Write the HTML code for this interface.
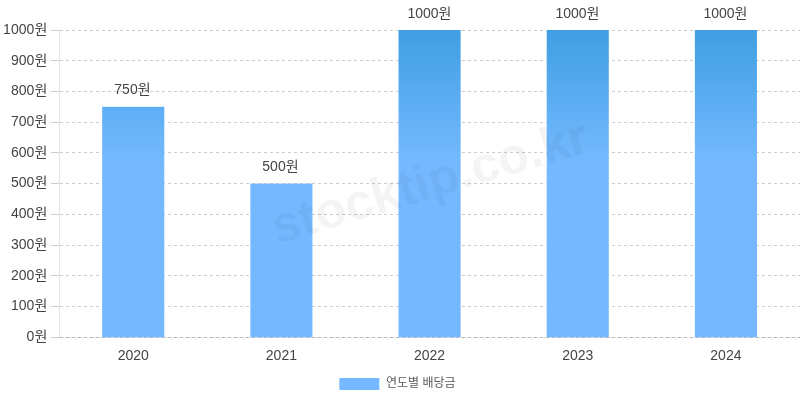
<!DOCTYPE html>
<html lang="ko"><head><meta charset="utf-8"><title>연도별 배당금</title>
<style>html,body{margin:0;padding:0;background:#fff;}body{width:800px;height:400px;overflow:hidden;}svg{display:block;will-change:transform;}text{font-family:"Liberation Sans","Noto Sans CJK KR",sans-serif;}</style></head><body>
<svg width="800" height="400" viewBox="0 0 800 400" role="img" aria-label="연도별 배당금: 2020 750원, 2021 500원, 2022 1000원, 2023 1000원, 2024 1000원">
<defs>
<linearGradient id="bg" gradientUnits="userSpaceOnUse" x1="0" y1="0" x2="0" y2="162"><stop offset="0" stop-color="#3498db"/><stop offset="1" stop-color="#74b9ff"/></linearGradient>
</defs>
<rect width="800" height="400" fill="#fff"/>
<g stroke="rgba(0,0,0,0.2)" stroke-width="1" fill="none">
<line x1="60.0" y1="30.5" x2="800" y2="30.5" stroke-dasharray="3 3"/>
<line x1="51.146" y1="30.5" x2="59.0" y2="30.5"/>
<line x1="60.0" y1="60.5" x2="800" y2="60.5" stroke-dasharray="3 3"/>
<line x1="51.146" y1="60.5" x2="59.0" y2="60.5"/>
<line x1="60.0" y1="91.5" x2="800" y2="91.5" stroke-dasharray="3 3"/>
<line x1="51.146" y1="91.5" x2="59.0" y2="91.5"/>
<line x1="60.0" y1="122.5" x2="800" y2="122.5" stroke-dasharray="3 3"/>
<line x1="51.146" y1="122.5" x2="59.0" y2="122.5"/>
<line x1="60.0" y1="152.5" x2="800" y2="152.5" stroke-dasharray="3 3"/>
<line x1="51.146" y1="152.5" x2="59.0" y2="152.5"/>
<line x1="60.0" y1="183.5" x2="800" y2="183.5" stroke-dasharray="3 3"/>
<line x1="51.146" y1="183.5" x2="59.0" y2="183.5"/>
<line x1="60.0" y1="214.5" x2="800" y2="214.5" stroke-dasharray="3 3"/>
<line x1="51.146" y1="214.5" x2="59.0" y2="214.5"/>
<line x1="60.0" y1="245.5" x2="800" y2="245.5" stroke-dasharray="3 3"/>
<line x1="51.146" y1="245.5" x2="59.0" y2="245.5"/>
<line x1="60.0" y1="275.5" x2="800" y2="275.5" stroke-dasharray="3 3"/>
<line x1="51.146" y1="275.5" x2="59.0" y2="275.5"/>
<line x1="60.0" y1="306.5" x2="800" y2="306.5" stroke-dasharray="3 3"/>
<line x1="51.146" y1="306.5" x2="59.0" y2="306.5"/>
<line x1="60.0" y1="337.5" x2="800" y2="337.5" stroke-dasharray="3 3"/>
<line x1="51.146" y1="337.5" x2="59.0" y2="337.5"/>
</g>
<line x1="59.5" y1="30" x2="59.5" y2="338.0" stroke="rgba(0,0,0,0.1)" stroke-width="1"/>
<line x1="59.0" y1="337.5" x2="800" y2="337.5" stroke="rgba(0,0,0,0.1)" stroke-width="1"/>
<rect x="102.18" y="106.80" width="62.1" height="230.40" fill="url(#bg)"/>
<rect x="250.35" y="183.60" width="62.1" height="153.60" fill="url(#bg)"/>
<rect x="398.52" y="30.00" width="62.1" height="307.20" fill="url(#bg)"/>
<rect x="546.69" y="30.00" width="62.1" height="307.20" fill="url(#bg)"/>
<rect x="694.86" y="30.00" width="62.1" height="307.20" fill="url(#bg)"/>
<text transform="translate(430.6 184.8) rotate(-16.5)" x="0" y="13.089" text-anchor="middle" font-size="50.4" font-weight="bold" fill="#000" fill-opacity="0.045">stocktip.co.kr</text>
<text x="26.460" y="341.055" font-size="14" fill="#444444">0</text>
<text x="34.55" y="340.5" font-size="14" fill="#444444">원</text>
<text x="10.888" y="310.335" font-size="14" fill="#444444">100</text>
<text x="34.55" y="309.5" font-size="14" fill="#444444">원</text>
<text x="10.888" y="279.615" font-size="14" fill="#444444">200</text>
<text x="34.55" y="279.5" font-size="14" fill="#444444">원</text>
<text x="10.888" y="248.895" font-size="14" fill="#444444">300</text>
<text x="34.55" y="248.5" font-size="14" fill="#444444">원</text>
<text x="10.888" y="218.175" font-size="14" fill="#444444">400</text>
<text x="34.55" y="217.5" font-size="14" fill="#444444">원</text>
<text x="10.888" y="187.455" font-size="14" fill="#444444">500</text>
<text x="34.55" y="186.5" font-size="14" fill="#444444">원</text>
<text x="10.888" y="156.735" font-size="14" fill="#444444">600</text>
<text x="34.55" y="156.5" font-size="14" fill="#444444">원</text>
<text x="10.888" y="126.015" font-size="14" fill="#444444">700</text>
<text x="34.55" y="125.5" font-size="14" fill="#444444">원</text>
<text x="10.888" y="95.295" font-size="14" fill="#444444">800</text>
<text x="34.55" y="94.5" font-size="14" fill="#444444">원</text>
<text x="10.888" y="64.575" font-size="14" fill="#444444">900</text>
<text x="34.55" y="64.5" font-size="14" fill="#444444">원</text>
<text x="3.101" y="33.855" font-size="14" fill="#444444">1000</text>
<text x="34.55" y="33.5" font-size="14" fill="#444444">원</text>
<text x="117.659" y="360.455" font-size="14" fill="#444444">2020</text>
<text x="265.830" y="360.455" font-size="14" fill="#444444">2021</text>
<text x="414.001" y="360.455" font-size="14" fill="#444444">2022</text>
<text x="562.172" y="360.455" font-size="14" fill="#444444">2023</text>
<text x="710.342" y="360.455" font-size="14" fill="#444444">2024</text>
<text x="114.321" y="93.855" font-size="14" fill="#444444">750</text>
<text x="137.68" y="93.5" font-size="14" fill="#444444">원</text>
<text x="262.321" y="170.855" font-size="14" fill="#444444">500</text>
<text x="285.68" y="170.5" font-size="14" fill="#444444">원</text>
<text x="407.428" y="17.855" font-size="14" fill="#444444">1000</text>
<text x="438.57" y="17.5" font-size="14" fill="#444444">원</text>
<text x="555.428" y="17.855" font-size="14" fill="#444444">1000</text>
<text x="586.57" y="17.5" font-size="14" fill="#444444">원</text>
<text x="703.428" y="17.855" font-size="14" fill="#444444">1000</text>
<text x="734.57" y="17.5" font-size="14" fill="#444444">원</text>
<rect x="339.33" y="378" width="40" height="12" fill="#74b9ff"/>
<text x="386" y="386.5" font-size="12" fill="#5a5a5a">연도별 배당금</text>
</svg></body></html>
